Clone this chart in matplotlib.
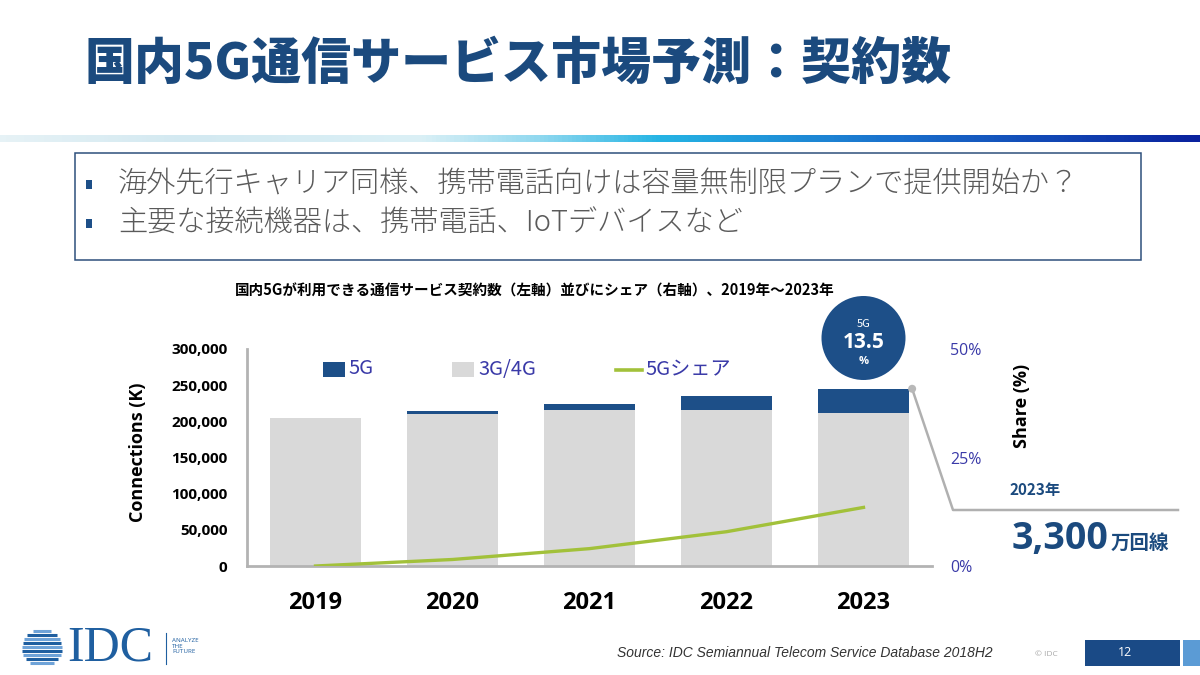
import numpy as np
import matplotlib
matplotlib.use("Agg")
import matplotlib.pyplot as plt
from matplotlib.patches import Rectangle, Circle
from matplotlib.colors import LinearSegmentedColormap

JP = ['Noto Sans CJK JP', 'DejaVu Sans']
EN = ['Open Sans', 'DejaVu Sans']
plt.rcParams['font.family'] = JP

# data (K connections, share in %)
years = ['2019', '2020', '2021', '2022', '2023']
conn_3g4g = [205000, 210500, 215300, 215700, 212000]
conn_5g = [0, 3800, 9100, 18900, 33000]
share_5g = [0.0, 1.5, 4.0, 7.9, 13.5]
left_ticks = [0, 50000, 100000, 150000, 200000, 250000, 300000]
right_ticks = [0, 25, 50]

title = '国内5G通信サービス市場予測：契約数'
bullets = ['海外先行キャリア同様、携帯電話向けは容量無制限プランで提供開始か？',
           '主要な接続機器は、携帯電話、IoTデバイスなど']
chart_title = '国内5Gが利用できる通信サービス契約数（左軸）並びにシェア（右軸）、2019年～2023年'
legend_names = ['5G', '3G/4G', '5Gシェア']
source = 'Source: IDC Semiannual Telecom Service Database 2018H2'

C5G = '#1d4f88'
CLTE = '#d9d9d9'
CLINE = '#a2c13a'
NAVY = '#1b4a7e'
AXBLUE = '#3a3aa8'
GRID = '#b3b3b3'

W, H = 1200, 675
fig = plt.figure(figsize=(12, 6.75), dpi=100)


def px(x0, y0, x1, y1):
    # pixel box (top-left origin) -> figure fraction rect
    return [x0 / W, 1 - y1 / H, (x1 - x0) / W, (y1 - y0) / H]


# ---- chart ----
ax = fig.add_axes(px(247, 349, 932, 566))
x = np.arange(len(years))
bw = 0.67
ax.bar(x, conn_3g4g, bw, color=CLTE, zorder=2)
ax.bar(x, conn_5g, bw, bottom=conn_3g4g, color=C5G, zorder=2)
ax.set_xlim(-0.5, len(years) - 0.5)
ax.set_ylim(0, 300000)
ax.set_yticks(left_ticks)
ax.set_yticklabels([f'{v:,}' for v in left_ticks], family=EN, weight='bold', fontsize=11)
ax.set_xticks(x)
ax.set_xticklabels(years, family=EN, weight='bold', fontsize=17)
ax.tick_params(axis='y', length=0, pad=14)
ax.tick_params(axis='x', length=0, pad=18)
for s in ['top', 'right']:
    ax.spines[s].set_visible(False)
for s in ['left', 'bottom']:
    ax.spines[s].set_color(GRID)
    ax.spines[s].set_linewidth(2)
ax.set_ylabel('Connections (K)', family=EN, weight='bold', fontsize=13)
ax.yaxis.set_label_coords(-0.146, 0.525)

ax2 = ax.twinx()
ax2.plot(x, share_5g, color=CLINE, lw=2.4, zorder=3)
ax2.set_ylim(0, 50)
ax2.set_yticks(right_ticks)
ax2.set_yticklabels([f'{v}%' for v in right_ticks], family=EN, fontsize=11.5, color=AXBLUE)
ax2.tick_params(axis='y', length=0, pad=13)
for s in ax2.spines.values():
    s.set_visible(False)
ax2.set_ylabel('Share (%)', family=EN, weight='bold', fontsize=13)
ax2.yaxis.set_label_coords(1.118, 0.737)

# ---- overlay in pixel coordinates ----
ov = fig.add_axes([0, 0, 1, 1])
ov.set_xlim(0, W)
ov.set_ylim(H, 0)
ov.axis('off')
ov.set_zorder(10)


def to_px(axes, xy):
    dx, dy = axes.transData.transform(xy)
    return dx, H - dy


# title
ov.text(85, 64, title, fontsize=36, weight='black', color=NAVY, va='center', ha='left')

# decorative band
grad = np.linspace(0, 1, 600).reshape(1, -1)
band_cmap = LinearSegmentedColormap.from_list('band', [
    (0.0, '#e6f2f6'), (0.15, '#d3e9f1'), (0.35, '#dbf0f6'), (0.45, '#8fd8ef'),
    (0.55, '#25b4e4'), (0.75, '#1a6fcc'), (1.0, '#0a229e')])
ov.imshow(grad, cmap=band_cmap, aspect='auto', extent=(0, W, 142, 135), zorder=1)

# bullet box
ov.add_patch(Rectangle((75, 153), 1066, 107, fill=False, ec='#2e4f7c', lw=1.1, zorder=2))
for i, b in enumerate(bullets):
    yb = 184 + i * 39
    ov.add_patch(Rectangle((86, yb - 4), 6, 9, color=C5G, lw=0, zorder=3))
    ov.text(118, yb, b, fontsize=21, color='#5a5a5a', va='center', ha='left', weight='light')

# chart title
ov.text(535, 291, chart_title, fontsize=10.5, weight='bold', color='black', ha='center', va='center')

# legend
ov.add_patch(Rectangle((323, 362), 22, 15, color=C5G, lw=0))
ov.text(348, 369, legend_names[0], fontsize=14.5, color=AXBLUE, va='center')
ov.add_patch(Rectangle((452, 362), 22, 15, color=CLTE, lw=0))
ov.text(478, 369, legend_names[1], fontsize=14.5, color=AXBLUE, va='center')
ov.plot([616, 642], [370, 370], color=CLINE, lw=2.6)
ov.text(645, 370, legend_names[2], fontsize=14.5, color=AXBLUE, va='center')

# 5G share bubble above the 2023 bar
bx_c, _ = to_px(ax, (x[-1], 0))
ov.add_patch(Circle((bx_c, 338), 42, color=C5G, lw=0, zorder=4))
ov.text(bx_c, 324, '5G', fontsize=8, color='white', ha='center', va='center', zorder=5)
ov.text(bx_c, 343, f'{share_5g[-1]:.1f}', fontsize=15, weight='bold', color='white',
        ha='center', va='center', family=EN, zorder=5)
ov.text(bx_c, 362, '%', fontsize=8, weight='bold', color='white', ha='center', va='center',
        family=EN, zorder=5)

# callout from 2023 bar top
dot_x, dot_y = to_px(ax, (x[-1] + bw / 2 + 0.02, conn_3g4g[-1] + conn_5g[-1]))
ov.plot([dot_x, 953, 1178], [dot_y, 510, 510], color='#b0b0b0', lw=1.8, zorder=3)
ov.add_patch(Circle((dot_x, dot_y), 4, color='#b8b8b8', lw=0, zorder=4))
ov.text(1010, 490, f'{years[-1]}年', fontsize=11, weight='bold', color=NAVY, va='center')
big = ov.text(1012, 549, f'{conn_5g[-1] // 10:,}', fontsize=27, weight='bold', color=NAVY,
              family=EN, va='baseline')
fig.canvas.draw()
bb = big.get_window_extent(fig.canvas.get_renderer())
ov.text(bb.x1 + 2, 549, '万回線', fontsize=14, weight='bold', color=NAVY, va='baseline')

# footer: IDC logo
for k, yy in enumerate(np.arange(631, 666, 4)):
    half = 20 * np.sqrt(max(0.0, 1 - ((yy - 648) / 19) ** 2))
    ov.plot([42 - half, 42 + half], [yy, yy], color='#1f5fa0' if k % 2 else '#6fa3d8', lw=2.2,
            solid_capstyle='butt')
ov.text(67, 648, 'IDC', fontsize=36, color='#1f5fa0', family=['Liberation Serif', 'DejaVu Serif'],
        va='center', ha='left')
ov.plot([166, 166], [633, 664], color='#1f5fa0', lw=0.8)
ov.text(172, 646, 'ANALYZE\nTHE\nFUTURE', fontsize=4.5, color='#1f5fa0', family=EN,
        va='center', ha='left', linespacing=1.1)

# footer: source, copyright, page number
ov.text(617, 653, source, fontsize=10, style='italic', color='#333333',
        family=['Liberation Sans', 'DejaVu Sans'], va='center', ha='left')
ov.text(1035, 654, '© IDC', fontsize=6, color='#aaaaaa', family=EN, va='center')
ov.add_patch(Rectangle((1085, 640), 95, 26, color='#1a4a86', lw=0))
ov.add_patch(Rectangle((1183, 640), 17, 26, color='#5b9bd5', lw=0))
ov.text(1125, 652, '12', fontsize=9, color='white', family=EN, va='center', ha='center')

fig.savefig('out.png', dpi=100)
